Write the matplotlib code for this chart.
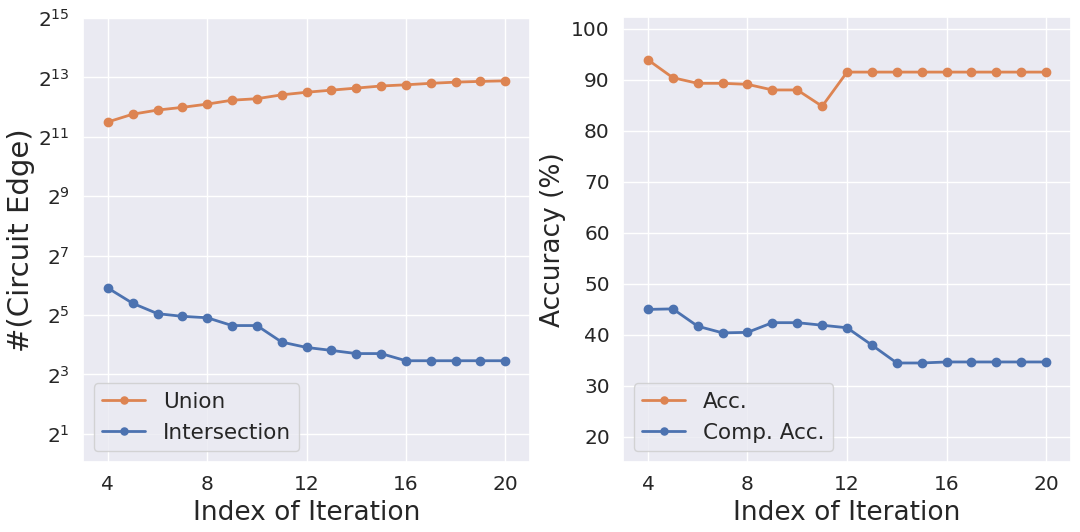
import matplotlib
matplotlib.use("Agg")
import matplotlib.pyplot as plt
import matplotlib.ticker as mticker
import seaborn as sns

iterations = list(range(4, 21))
union = [2896, 3470, 3820, 4070, 4390, 4810, 4980, 5450, 5790, 6080, 6380, 6700, 6890, 7130, 7330, 7460, 7560]
intersection = [60, 42, 33, 31, 30, 25, 25, 17, 15, 14, 13, 13, 11, 11, 11, 11, 11]
acc = [93.9, 90.4, 89.3, 89.3, 89.1, 88.0, 88.0, 84.8, 91.5, 91.5, 91.5, 91.5, 91.5, 91.5, 91.5, 91.5, 91.5]
comp_acc = [45.0, 45.1, 41.7, 40.4, 40.5, 42.4, 42.4, 41.9, 41.4, 38.0, 34.5, 34.5, 34.7, 34.7, 34.7, 34.7, 34.7]

sns.set_theme(style="darkgrid")
plt.rcParams['font.family'] = ['DejaVu Sans']
pal = sns.color_palette("deep")

fig = plt.figure(figsize=(10.8, 5.32), dpi=100)
ax1 = fig.add_axes([0.0769, 0.1316, 0.4139, 0.8346])
ax2 = fig.add_axes([0.5769, 0.1316, 0.4148, 0.8365])

# left: edge counts on log2 scale
ax1.plot(iterations, union, marker='o', color=pal[1], lw=2, ms=6, label='Union')
ax1.plot(iterations, intersection, marker='o', color=pal[0], lw=2, ms=6, label='Intersection')
ax1.set_yscale('log', base=2)
ax1.set_yticks([2 ** k for k in range(1, 16, 2)])
ax1.yaxis.set_major_formatter(mticker.LogFormatterSciNotation(base=2))
ax1.yaxis.set_minor_locator(mticker.NullLocator())
ax1.set_ylim(2 ** 0.05, 2 ** 15)
ax1.set_ylabel('#(Circuit Edge)', fontsize=21, labelpad=2)
ax1.legend(loc='lower left', fontsize=15.5, markerscale=0.85)

# right: accuracy
ax2.plot(iterations, acc, marker='o', color=pal[1], lw=2, ms=6, label='Acc.')
ax2.plot(iterations, comp_acc, marker='o', color=pal[0], lw=2, ms=6, label='Comp. Acc.')
ax2.set_yticks(range(20, 101, 10))
ax2.set_ylim(15.1, 102.3)
ax2.set_ylabel('Accuracy (%)', fontsize=19)
ax2.legend(loc='lower left', fontsize=15.5, markerscale=0.85)

for ax in (ax1, ax2):
    ax.set_xlim(3, 21)
    ax.set_xticks([4, 8, 12, 16, 20])
    ax.set_xlabel('Index of Iteration', fontsize=19)
    ax.tick_params(labelsize=14.5)

fig.savefig('out.png', dpi=100)
